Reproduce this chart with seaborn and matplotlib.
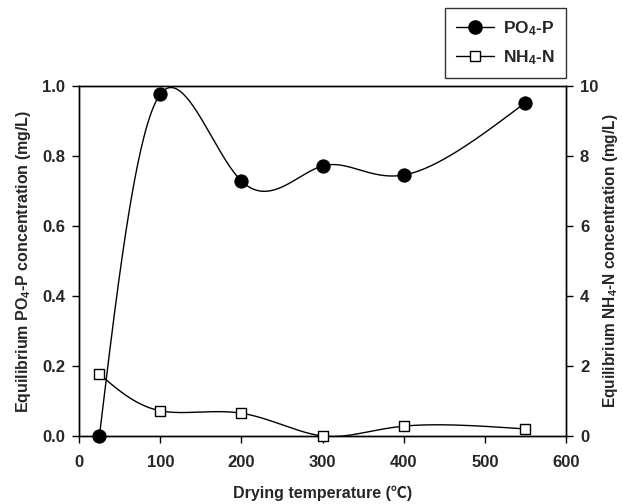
import numpy as np
import pandas as pd
import matplotlib
matplotlib.use("Agg")
import matplotlib.pyplot as plt
from matplotlib.lines import Line2D
import seaborn as sns

# ---- data ----
temperature = [25, 100, 200, 300, 400, 550]
po4_p = [0.0, 0.977, 0.729, 0.772, 0.746, 0.953]
nh4_n = [1.77, 0.72, 0.65, 0.0, 0.28, 0.20]
x_ticks = [0, 100, 200, 300, 400, 500, 600]
left_ticks = [0.0, 0.2, 0.4, 0.6, 0.8, 1.0]
right_ticks = [0, 2, 4, 6, 8, 10]

sns.set_style("ticks")
plt.rcParams['font.family'] = ['Liberation Sans', 'DejaVu Sans', 'Noto Sans CJK SC']
plt.rcParams['font.weight'] = 'bold'
plt.rcParams['mathtext.fontset'] = 'custom'
plt.rcParams['mathtext.rm'] = 'Liberation Sans:bold'
plt.rcParams['mathtext.bf'] = 'Liberation Sans:bold'
plt.rcParams['mathtext.it'] = 'Liberation Sans:bold'
plt.rcParams['mathtext.default'] = 'bf'


def _natural(v, t):
    v = np.asarray(v, float)
    k = len(v)
    A = np.zeros((k, k)); r = np.zeros(k)
    A[0, 0] = A[-1, -1] = 1
    for i in range(1, k - 1):
        A[i, i - 1] = 1; A[i, i] = 4; A[i, i + 1] = 1
        r[i] = 6 * (v[i + 1] - 2 * v[i] + v[i - 1])
    M = np.linalg.solve(A, r)
    idx = np.clip(np.floor(t).astype(int), 0, k - 2)
    u = t - idx
    a, b = v[idx], v[idx + 1]
    Ma, Mb = M[idx], M[idx + 1]
    return ((1 - u) * a + u * b
            + ((1 - u) ** 3 - (1 - u)) * Ma / 6 + (u ** 3 - u) * Mb / 6)


def smooth_curve(x, y, n=600):
    """Parametric natural cubic spline (index parametrisation) for drawing."""
    t = np.linspace(0, len(x) - 1, n)
    return _natural(x, t), _natural(y, t)


fig = plt.figure(figsize=(6.23, 5.04), dpi=100)
ax = fig.add_axes([0.127, 0.135, 0.7815, 0.694])
ax2 = ax.twinx()

xs, ys = smooth_curve(temperature, po4_p)
sns.lineplot(x=xs, y=ys, ax=ax, color='black', lw=1.0, sort=False)
sns.scatterplot(x=temperature, y=po4_p, ax=ax, color='black', marker='o', s=90,
                edgecolor='black', linewidth=0.8, zorder=5, clip_on=False)

xs2, ys2 = smooth_curve(temperature, nh4_n)
sns.lineplot(x=xs2, y=ys2, ax=ax2, color='black', lw=1.0, sort=False)
sns.scatterplot(x=temperature, y=nh4_n, ax=ax2, color='white', marker='s', s=62,
                edgecolor='black', linewidth=1.0, zorder=5, clip_on=False)

ax.set_xlim(0, 600)
ax.set_ylim(0, 1.0)
ax2.set_ylim(0, 10)
ax.set_xticks(x_ticks)
ax.set_yticks(left_ticks)
ax.set_yticklabels([f"{v:.1f}" for v in left_ticks])
ax2.set_yticks(right_ticks)

for a in (ax, ax2):
    a.tick_params(direction='out', length=5, width=1, labelsize=12, color='black', pad=5)
    for s in a.spines.values():
        s.set_linewidth(1.0)
        s.set_color('black')
    for lab in a.get_xticklabels() + a.get_yticklabels():
        lab.set_fontweight('bold')
ax.tick_params(axis='x', pad=9)

ax.set_xlabel("Drying temperature (\u2103)", fontsize=11.5, fontweight='bold', labelpad=11,
              family=['Liberation Sans', 'Noto Sans CJK SC', 'DejaVu Sans'])
ax.set_ylabel("Equilibrium PO$_4$-P concentration (mg/L)", fontsize=11.5, fontweight='bold',
              labelpad=7)
ax2.set_ylabel("Equilibrium NH$_4$-N concentration (mg/L)", fontsize=11.2, fontweight='bold',
               rotation=90, labelpad=2)

handles = [
    Line2D([], [], color='black', lw=1.0, marker='o', markersize=9.5, markerfacecolor='black'),
    Line2D([], [], color='black', lw=1.0, marker='s', markersize=7.5, markerfacecolor='white',
           markeredgecolor='black'),
]
leg = fig.legend(handles, ["PO$_4$-P", "NH$_4$-N"], loc='upper right',
                 bbox_to_anchor=(0.9085, 0.984), borderaxespad=0.0, frameon=True,
                 fancybox=False, edgecolor='black', fontsize=12.5, handlelength=2.2,
                 handletextpad=0.5, borderpad=0.65, labelspacing=0.6)
leg.get_frame().set_linewidth(1.0)

fig.savefig("out.png", dpi=100)
